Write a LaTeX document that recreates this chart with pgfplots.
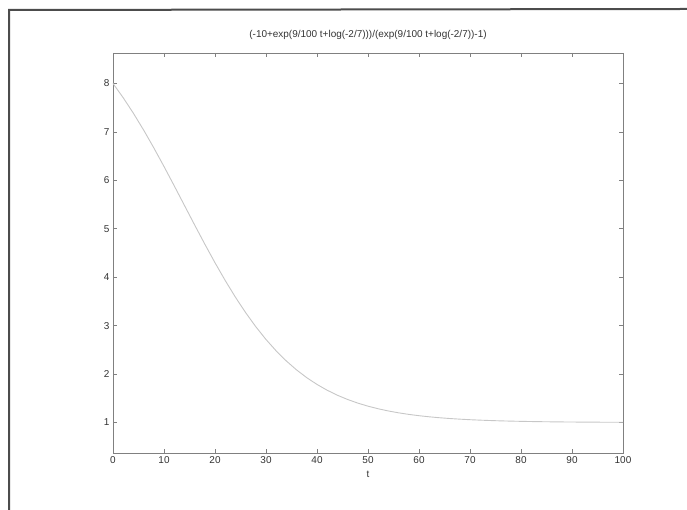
\documentclass[border=0pt]{standalone}
\usepackage{fontspec}
\setmainfont{Liberation Sans}
\usepackage{pgfplots}
\pgfplotsset{compat=1.18}
\begin{document}
\begin{tikzpicture}[x=1bp,y=1bp]
  \path[use as bounding box] (0,0) rectangle (687,510);
  % scanned page edge
  \draw[line width=2bp, black!70] (9,0) -- (9,500) -- (687,501);

  \begin{axis}[
      at={(113bp,57bp)},
      anchor=south west,
      scale only axis,
      width=510bp,
      height=400bp,
      xmin=0, xmax=100,
      ymin=0.37, ymax=8.63,
      xtick={0,10,...,100},
      ytick={1,2,...,8},
      tick align=inside,
      major tick length=4bp,
      axis line style={black!50, line width=0.8bp},
      tick style={black!50, line width=0.6bp},
      tick label style={font=\fontsize{10}{12}\selectfont, text=black!80},
      /pgf/number format/assume math mode=true,
      xlabel={t},
      xlabel style={font=\fontsize{10}{12}\selectfont, text=black!80, yshift=-1bp},
      title={(-10+exp(9/100 t+log(-2/7)))/(exp(9/100 t+log(-2/7))-1)},
      title style={font=\fontsize{10}{12}\selectfont, text=black!80, at={(axis description cs:0.5,1)}, anchor=south, yshift=4bp},
      clip=false,
    ]
    \addplot[black!22, line width=0.9bp] coordinates {
      (0,8.0000) (2,7.7061) (4,7.3852) (6,7.0391) (8,6.6712) (10,6.2856)
      (12,5.8878) (14,5.4837) (16,5.0800) (18,4.6829) (20,4.2986)
      (22,3.9322) (24,3.5881) (26,3.2693) (28,2.9776) (30,2.7139)
      (32,2.4779) (34,2.2688) (36,2.0850) (38,1.9246) (40,1.7856)
      (42,1.6657) (44,1.5629) (46,1.4751) (48,1.4003) (50,1.3368)
      (52,1.2831) (54,1.2377) (56,1.1994) (58,1.1672) (60,1.1401)
      (62,1.1173) (64,1.0982) (66,1.0822) (68,1.0687) (70,1.0575)
      (72,1.0481) (74,1.0402) (76,1.0336) (78,1.0281) (80,1.0235)
      (82,1.0196) (84,1.0164) (86,1.0137) (88,1.0114) (90,1.0096)
      (92,1.0080) (94,1.0067) (96,1.0056) (98,1.0047) (100,1.0039)
    };
  \end{axis}
\end{tikzpicture}
\end{document}
